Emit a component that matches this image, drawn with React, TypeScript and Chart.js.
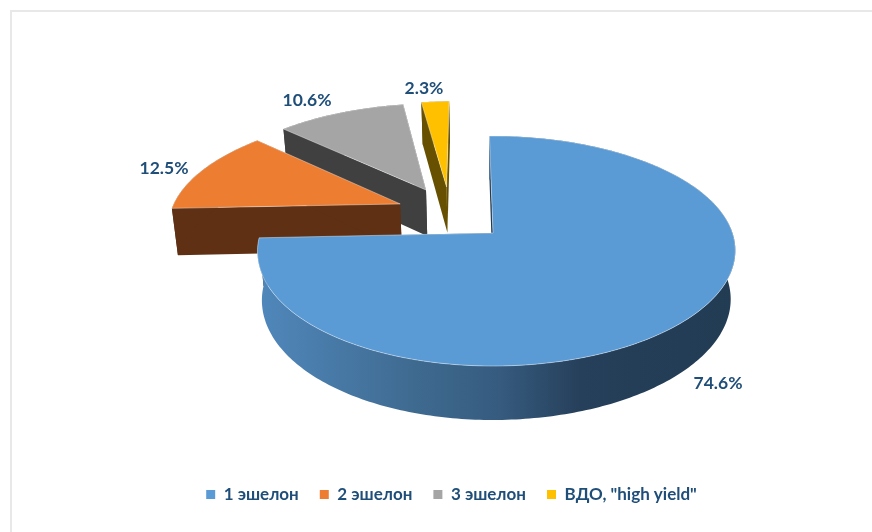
import React, { useEffect, useRef } from "react";
import { Chart, registerables } from "chart.js";

Chart.register(...registerables);

const categories = ["1 эшелон", "2 эшелон", "3 эшелон", 'ВДО, "high yield"'];
const shares = [74.6, 12.5, 10.6, 2.3];

const sliceColors = ["#5B9BD5", "#ED7D31", "#A5A5A5", "#FFC000"];
const wallColors = ["#223C54", "#5F3013", "#404040", "#675000"];
const sliceOrder = [3, 2, 1, 0];
const pullU = [0, -0.41, -0.302, -0.21];
const pullV = [0, -0.27, -0.4077, -0.438];
const bulge = [3.5, 0, 0, 0];
const labelX = [718, 164, 307, 424];
const labelY = [383, 168, 100, 88];

const TEXT = "#1F4E79";
const FONT = '"Lato", "Noto Sans", sans-serif';
const CENTER_X = 493;
const CENTER_Y = 233;

const view = { b: -0.1565, a: 112.2, c: 236, vanishX: 490, shrink: 0.981, height: 47.9, heightSlope: 0.0456 };

function top(u: number, v: number, i: number) {
  const f = 1 + view.b * v;
  return { x: CENTER_X + (view.c * u) / f + bulge[i] * u * u, y: CENTER_Y + (view.a * v) / f };
}
function bottom(p: { x: number; y: number }) {
  return {
    x: view.vanishX + (p.x - view.vanishX) * view.shrink,
    y: p.y + view.height + (p.y - CENTER_Y) * view.heightSlope,
  };
}
function trace(ctx: CanvasRenderingContext2D, pts: { x: number; y: number }[]) {
  ctx.beginPath();
  pts.forEach((p, i) => (i ? ctx.lineTo(p.x, p.y) : ctx.moveTo(p.x, p.y)));
  ctx.closePath();
}

const pie3d = {
  id: "pie3d",
  beforeDatasetsDraw(chart: any) {
    const ctx: CanvasRenderingContext2D = chart.ctx;
    const arcs = chart.getDatasetMeta(0).data;
    ctx.save();
    ctx.lineJoin = "round";
    for (const i of sliceOrder) {
      const arc = arcs[i];
      const { startAngle, endAngle } = arc.getProps(["startAngle", "endAngle"], true);
      const n = Math.max(4, Math.ceil((endAngle - startAngle) * 60));
      const rim = [];
      for (let k = 0; k <= n; k++) {
        const t = startAngle + ((endAngle - startAngle) * k) / n;
        rim.push(top(pullU[i] + Math.cos(t), pullV[i] + Math.sin(t), i));
      }
      const apex = top(pullU[i], pullV[i], i);
      const rimLow = rim.map(bottom);
      const apexLow = bottom(apex);
      ctx.fillStyle = wallColors[i];
      trace(ctx, [apex, rim[0], rimLow[0], apexLow]);
      ctx.fill();
      trace(ctx, [apex, rim[n], rimLow[n], apexLow]);
      ctx.fill();
      if (i === 0) {
        const g = ctx.createLinearGradient(257, 0, 735, 0);
        g.addColorStop(0, "#5088BC");
        g.addColorStop(0.33, "#3F6A90");
        g.addColorStop(0.5, "#365C80");
        g.addColorStop(0.68, "#263F5A");
        g.addColorStop(1, "#223C54");
        ctx.fillStyle = g;
      }
      trace(ctx, [...rim, ...rimLow.slice().reverse()]);
      ctx.fill();
      ctx.fillStyle = arc.options.backgroundColor;
      ctx.strokeStyle = "rgba(255,255,255,0.4)";
      ctx.lineWidth = 1;
      trace(ctx, [apex, ...rim]);
      ctx.fill();
      ctx.stroke();
    }
    ctx.restore();
    return false;
  },
  afterDraw(chart: any) {
    const ctx: CanvasRenderingContext2D = chart.ctx;
    ctx.save();
    ctx.font = `bold 17.5px ${FONT}`;
    ctx.fillStyle = TEXT;
    ctx.textAlign = "center";
    ctx.textBaseline = "middle";
    shares.forEach((s, i) => ctx.fillText(`${s.toFixed(1)}%`, labelX[i], labelY[i]));
    ctx.restore();
  },
};

export default function App() {
  const ref = useRef<HTMLCanvasElement>(null);
  useEffect(() => {
    const chart = new Chart(ref.current!, {
      type: "pie",
      data: {
        labels: categories,
        datasets: [{ data: shares, backgroundColor: sliceColors, borderWidth: 0 }],
      },
      options: {
        responsive: false,
        animation: false,
        rotation: -1,
        layout: { padding: { left: 31, bottom: 19 } },
        plugins: {
          tooltip: { enabled: false },
          legend: {
            position: "bottom",
            labels: {
              boxWidth: 9,
              boxHeight: 9,
              padding: 21,
              color: TEXT,
              font: { family: FONT, size: 17, weight: "bold" },
            },
          },
        },
      },
      plugins: [pie3d],
    } as any);
    return () => chart.destroy();
  }, []);
  return (
    <div style={{ position: "absolute", left: 0, top: 0, width: 872, height: 532, overflow: "hidden", background: "#fff" }}>
      <div style={{ position: "absolute", left: 10, top: 10, right: 0, bottom: 0, borderLeft: "2px solid #E8E8E8", borderTop: "2px solid #E8E8E8" }} />
      <canvas ref={ref} width={872} height={532} style={{ position: "absolute", left: 0, top: 0, display: "block" }} />
    </div>
  );
}
